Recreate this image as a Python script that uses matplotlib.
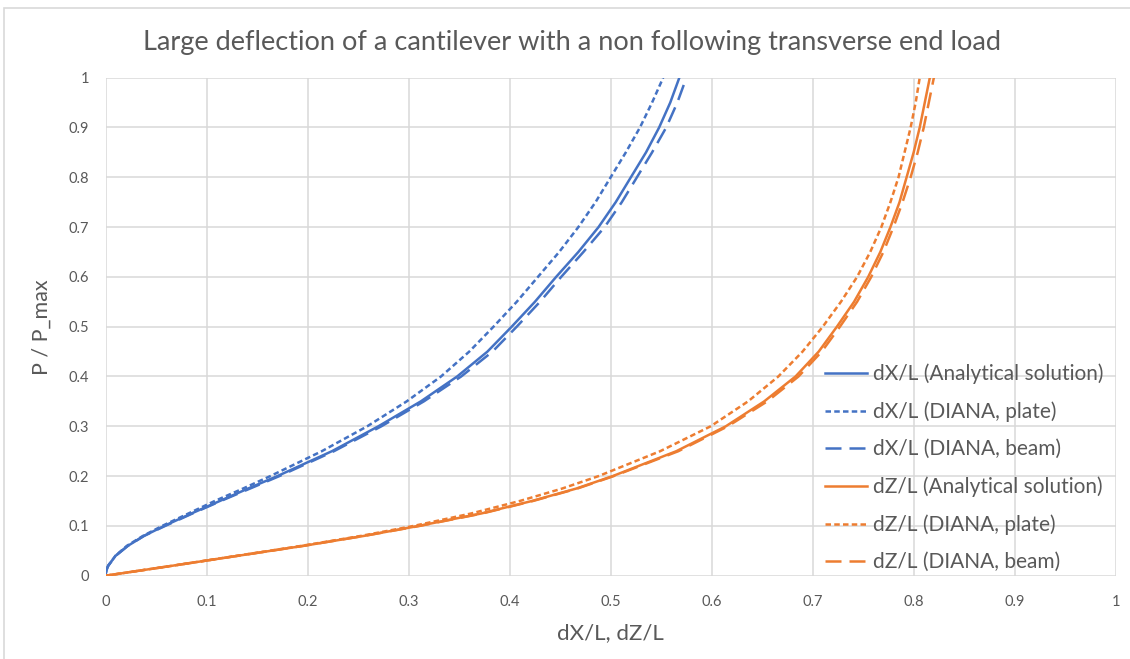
import matplotlib
matplotlib.use('Agg')
import matplotlib.pyplot as plt
from matplotlib.patches import Rectangle

plt.rcParams['font.family'] = ['Lato', 'DejaVu Sans']

# load levels P / P_max
load = [0, 0.005, 0.01, 0.02, 0.04, 0.06, 0.08, 0.1, 0.125, 0.15, 0.175, 0.2, 0.25,
        0.3, 0.35, 0.4, 0.45, 0.5, 0.55, 0.6, 0.65, 0.7, 0.75, 0.8, 0.85, 0.9, 0.95, 1.0]

# dX/L
dx_analytical = [0, 0.00015, 0.0006, 0.0025, 0.0098, 0.022, 0.038, 0.058, 0.085, 0.113,
                 0.141, 0.170, 0.224, 0.270, 0.312, 0.348, 0.378, 0.402, 0.425, 0.446,
                 0.468, 0.488, 0.505, 0.520, 0.535, 0.548, 0.559, 0.568]
dx_plate = [0, 0.00015, 0.0006, 0.0025, 0.0097, 0.021, 0.037, 0.056, 0.082, 0.108,
            0.136, 0.163, 0.214, 0.259, 0.298, 0.332, 0.360, 0.384, 0.407, 0.428,
            0.449, 0.468, 0.485, 0.500, 0.515, 0.529, 0.541, 0.552]
dx_beam = [0, 0.00015, 0.0006, 0.0025, 0.0099, 0.022, 0.038, 0.059, 0.086, 0.114,
           0.143, 0.172, 0.226, 0.273, 0.315, 0.352, 0.383, 0.407, 0.430, 0.451,
           0.473, 0.494, 0.511, 0.526, 0.541, 0.555, 0.566, 0.575]

# dZ/L
dz_analytical = [0, 0.0165, 0.033, 0.066, 0.131, 0.196, 0.256, 0.310, 0.372, 0.422,
                 0.466, 0.502, 0.565, 0.614, 0.652, 0.683, 0.706, 0.724, 0.741, 0.755,
                 0.767, 0.777, 0.786, 0.793, 0.800, 0.806, 0.811, 0.816]
dz_plate = [0, 0.0165, 0.033, 0.066, 0.130, 0.194, 0.253, 0.305, 0.362, 0.410,
            0.452, 0.488, 0.549, 0.599, 0.636, 0.666, 0.690, 0.710, 0.728, 0.744,
            0.757, 0.768, 0.777, 0.785, 0.791, 0.797, 0.802, 0.806]
dz_beam = [0, 0.0165, 0.033, 0.066, 0.131, 0.196, 0.256, 0.311, 0.373, 0.423,
           0.467, 0.503, 0.567, 0.616, 0.655, 0.686, 0.709, 0.727, 0.744, 0.758,
           0.770, 0.780, 0.789, 0.797, 0.804, 0.810, 0.815, 0.820]

ticks = [0, 0.1, 0.2, 0.3, 0.4, 0.5, 0.6, 0.7, 0.8, 0.9, 1]
tick_labels = ['0', '0.1', '0.2', '0.3', '0.4', '0.5', '0.6', '0.7', '0.8', '0.9', '1']

BLUE = '#4472C4'
ORANGE = '#ED7D31'
GREY = '#595959'
LW = 1.8
plate_ls = (0, (2.2, 1.3))
beam_ls = (0, (6.4, 3.2))

fig = plt.figure(figsize=(11.3, 6.59), dpi=100)
ax = fig.add_axes([0.0935, 0.1264, 0.8938, 0.7557])

# chart border (top / left only visible in the crop)
fig.patches.append(Rectangle((4 / 1130, -0.1), 1.2, 1 - 8 / 659 + 0.1,
                             transform=fig.transFigure, fill=False,
                             edgecolor='#D9D9D9', linewidth=1.2))

ax.plot(dx_analytical, load, color=BLUE, lw=LW, label='dX/L (Analytical solution)')
ax.plot(dx_plate, load, color=BLUE, lw=LW, ls=plate_ls, label='dX/L (DIANA, plate)')
ax.plot(dx_beam, load, color=BLUE, lw=LW, ls=beam_ls, label='dX/L (DIANA, beam)')
ax.plot(dz_analytical, load, color=ORANGE, lw=LW, label='dZ/L (Analytical solution)')
ax.plot(dz_plate, load, color=ORANGE, lw=LW, ls=plate_ls, label='dZ/L (DIANA, plate)')
ax.plot(dz_beam, load, color=ORANGE, lw=LW, ls=beam_ls, label='dZ/L (DIANA, beam)')

ax.set_xlim(0, 1)
ax.set_ylim(0, 1)
ax.set_xticks(ticks)
ax.set_xticklabels(tick_labels)
ax.set_yticks(ticks)
ax.set_yticklabels(tick_labels)
ax.tick_params(length=0, labelsize=10.5, colors=GREY, pad=14)
ax.tick_params(axis='y', pad=12)
ax.grid(True, color='#D9D9D9', lw=1.1)
ax.set_axisbelow(True)
for s in ax.spines.values():
    s.set_visible(False)

ax.set_xlabel('dX/L, dZ/L', fontsize=16, color=GREY, labelpad=10)
ax.set_ylabel('P / P_max', fontsize=15.5, color=GREY, labelpad=12)
fig.text(0.506, 0.935, 'Large deflection of a cantilever with a non following transverse end load',
         ha='center', va='center', fontsize=19.5, color=GREY)

leg = ax.legend(loc='lower right', bbox_to_anchor=(1.0, -0.018), frameon=False,
                fontsize=15, handlelength=2.05, handletextpad=0.25,
                labelspacing=0.83, borderaxespad=0.2)
for t in leg.get_texts():
    t.set_color(GREY)

fig.savefig('out.png', dpi=100)
